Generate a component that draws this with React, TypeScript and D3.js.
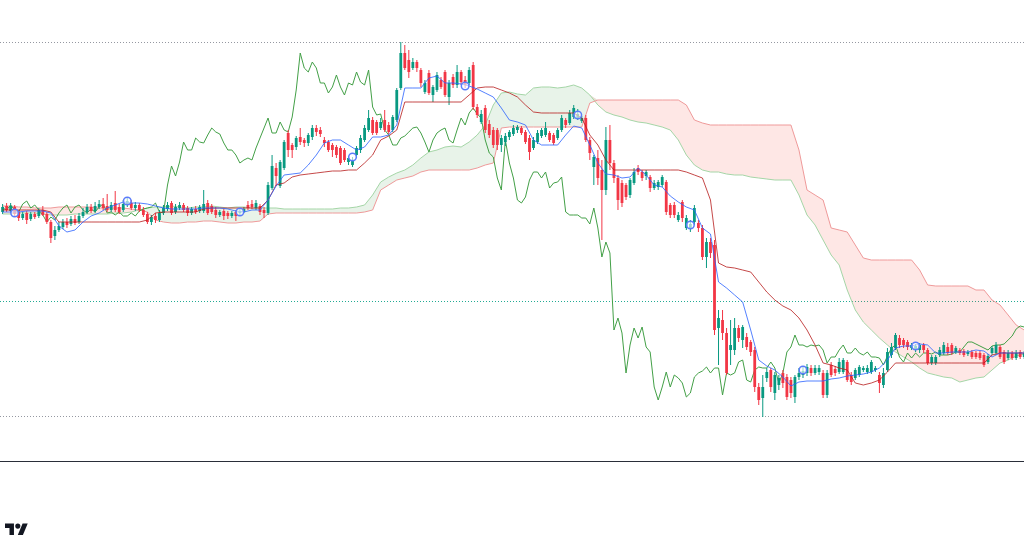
import React from 'react';
import * as d3 from 'd3';

const W = 1024;
const H = 539;
const PLOT_BOTTOM = 461;

// bars: [open, high, low, close]
const ohlc: [number, number, number, number][] = [
  [288,296,286,293],[294,297,288,290],[289,297,287,294],[293,295,283,286],[288,290,279,282],
  [282,288,280,286],[287,289,276,280],[281,288,279,286],[286,288,281,283],[284,292,282,290],
  [290,294,284,285],[286,288,276,278],[278,280,257,262],[264,274,260,270],[270,278,268,274],
  [273,281,271,278],[278,282,272,275],[276,284,274,281],[281,285,275,277],[278,287,276,284],
  [284,292,282,288],[288,296,286,293],[293,296,287,289],[289,298,287,294],[293,300,291,296],
  [296,302,290,292],[294,306,288,290],[290,298,288,295],[297,309,288,290],[293,296,286,288],
  [290,300,288,296],[295,303,293,299],[297,300,290,292],[292,298,289,295],[295,297,288,290],
  [290,293,283,285],[286,288,276,278],[278,285,275,283],[284,287,277,280],[280,290,278,287],
  [287,295,285,292],[291,298,289,295],[297,299,285,287],[288,296,286,293],[292,298,290,295],
  [295,297,288,290],[292,294,284,287],[287,293,285,291],[291,294,286,288],[289,295,287,293],
  [289,310,287,296],[297,300,285,287],[294,296,286,288],[290,293,282,285],[285,290,283,288],
  [289,291,280,284],[287,289,281,284],[284,289,282,287],[288,290,279,284],[287,291,285,289],
  [288,293,287,291],[295,299,290,292],[296,300,291,293],[292,300,290,297],[294,296,285,288],
  [290,293,282,287],[287,318,285,315],[312,345,310,334],[332,337,314,324],[314,340,312,338],
  [332,360,330,358],[367,370,343,350],[355,357,342,350],[353,364,350,362],[363,372,355,358],
  [360,362,353,357],[357,367,354,365],[363,375,360,372],[372,375,364,368],[370,373,363,366],
  [360,363,353,357],[358,360,348,350],[355,357,343,350],[353,355,342,345],[352,354,335,337],
  [350,352,338,340],[338,344,335,342],[335,343,333,340],[345,354,342,352],[350,365,347,362],
  [360,375,358,372],[370,390,368,382],[380,383,365,367],[378,380,365,367],[372,382,370,378],
  [380,390,368,370],[375,378,366,368],[370,385,368,383],[380,412,378,410],[412,458,410,447],
  [447,455,430,432],[440,450,422,428],[432,442,430,438],[438,440,428,432],[430,432,413,417],
  [408,420,406,417],[427,430,405,407],[405,415,398,413],[410,428,408,425],[420,423,411,413],
  [428,430,403,405],[403,420,395,417],[423,426,412,415],[415,435,412,428],[428,430,415,418],
  [420,424,412,415],[417,433,415,430],[435,438,390,393],[393,396,382,385],[378,390,376,386],
  [392,395,367,370],[376,380,362,365],[370,373,352,355],[370,372,350,355],[355,365,348,362],
  [358,367,354,364],[363,370,360,368],[366,375,364,372],[370,375,367,373],[372,374,365,367],
  [368,370,356,358],[362,365,340,348],[352,363,350,360],[358,370,356,367],[364,372,362,370],
  [365,378,363,372],[367,369,358,360],[365,367,355,357],[362,372,360,370],[370,385,368,382],
  [380,382,372,375],[377,390,375,387],[383,395,381,392],[382,391,380,386],[379,384,377,382],
  [382,385,358,360],[360,363,340,347],[333,345,315,343],[342,350,315,322],[330,340,260,310],
  [310,373,305,360],[360,375,330,337],[337,340,317,322],[322,325,290,300],[317,320,293,297],
  [315,317,300,303],[305,322,302,320],[317,332,315,328],[332,335,325,328],[328,330,319,322],
  [324,330,320,328],[323,325,308,312],[312,320,310,317],[313,320,310,318],[315,325,313,323],
  [318,320,285,288],[295,297,282,285],[295,298,282,285],[280,288,278,285],[298,300,278,282],
  [272,285,270,282],[272,280,268,276],[278,295,275,292],[277,280,268,272],[272,275,240,243],
  [243,262,232,258],[258,262,242,247],[255,260,165,170],[172,190,135,182],[180,190,160,167],
  [167,172,125,127],[150,180,135,155],[150,182,145,172],[172,175,158,162],[160,175,152,173],
  [163,167,150,153],[158,160,144,148],[150,153,108,113],[113,117,95,100],[102,125,83,113],
  [122,132,118,128],[130,132,108,113],[107,128,100,125],[115,125,110,122],[127,130,112,117],
  [123,126,100,103],[120,123,102,107],[103,125,97,123],[123,132,120,127],[125,134,122,129],
  [127,136,124,133],[132,135,124,127],[127,135,125,132],[128,135,125,132],[127,130,102,105],
  [105,130,102,127],[135,138,123,125],[131,134,124,127],[128,142,126,138],[128,142,126,140],
  [138,140,118,120],[125,128,115,118],[122,132,120,130],[125,135,123,133],[130,134,128,132],
  [128,135,126,132],[128,140,126,138],[130,134,128,132],[125,128,107,117],[115,132,112,127],
  [130,152,128,148],[145,157,142,153],[152,167,150,165],[162,165,152,155],[160,162,152,155],
  [158,160,150,153],[152,157,150,155],[151,156,148,154],[150,157,147,155],[155,157,147,150],
  [150,152,135,137],[137,145,135,143],[137,145,135,143],[145,153,143,150],[147,158,145,155],
  [153,157,145,147],[155,157,145,147],[148,154,146,152],[150,152,145,147],[149,151,143,145],
  [146,150,144,148],[148,150,141,143],[147,149,141,143],[147,149,140,142],[145,147,133,135],
  [138,146,136,144],[147,154,145,152],[147,158,145,155],[153,155,141,143],[148,150,136,138],
  [142,150,140,147],[147,149,140,142],[142,150,140,147],[148,150,141,143],[143,149,141,147],
];

// closes of the bars after the visible range (only seen through the lagging span)
const closesAhead = [147,146,148,145,145,145,146,148,148,153,158,158,156,154,152,150,154,155,155,156,160,164,171,174,173];

// Ichimoku lines, one value every 2 bars
const tenkan = [
  288,288,288,289,289,289,287,274,268,270,
  278,284,287,292,295,298,297,297,296,294,
  292,291,291,291,291,292,292,292,291,289,
  288,290,290,300,314,325,326,327,335,345,
  357,360,360,355,350,353,363,363,365,375,
  412,412,412,422,424,417,417,416,414,411,
  407,403,392,380,378,375,360,355,355,355,
  365,374,372,355,337,326,325,322,323,332,
  325,315,313,304,298,293,290,272,266,218,
  212,205,198,170,140,134,130,123,114,118,
  119,119,119,121,122,124,125,126,128,132,
  140,152,154,154,156,155,147,147,148,148,
  148,150,149,143,147,147,147,147,
];
const kijun = [
  290,290,290,290,290,290,288,278,278,278,
  278,278,278,278,278,278,278,278,280,287,
  288,288,288,288,288,291,292,292,292,292,
  292,292,292,300,315,317,323,325,326,327,
  328,329,329,330,330,337,345,360,364,370,
  398,398,398,398,398,398,398,398,405,412,
  413,413,410,407,403,395,388,387,387,387,
  387,387,382,365,355,340,330,330,330,330,
  330,330,330,330,330,328,325,322,300,237,
  233,232,230,228,218,208,200,194,190,182,
  170,155,137,135,132,130,117,115,117,120,
  128,137,137,137,137,137,137,137,137,137,
  137,137,137,145,147,147,147,147,
];
const spanA = [
  286,286,287,287,287,286,285,285,285,286,
  286,286,286,286,287,287,288,290,292,293,
  293,294,293,292,293,293,294,293,292,293,
  293,292,292,292,292,291,291,291,291,291,
  291,291,292,292,293,295,305,318,323,327,
  330,335,342,348,350,353,354,353,358,365,
  375,395,407,408,406,405,412,413,413,412,
  413,415,412,405,395,388,385,383,380,378,
  377,375,373,370,360,345,335,330,328,328,
  326,325,325,323,322,321,320,320,320,305,
  285,275,260,245,235,210,190,178,170,162,
  155,148,143,138,132,127,125,123,122,118,
  120,122,123,130,137,140,144,146,
];
const spanB = [
  294,294,293,293,292,292,292,293,293,293,
  293,293,292,292,292,292,291,290,288,280,
  278,277,277,278,278,279,279,278,277,277,
  278,278,279,286,287,287,287,287,287,287,
  287,287,287,287,287,288,290,310,315,320,
  322,324,328,330,330,330,330,330,330,332,
  335,337,372,373,373,373,373,373,373,373,
  373,373,373,397,400,400,400,400,400,400,
  400,400,400,400,400,395,380,377,375,375,
  375,375,375,375,375,375,375,375,375,350,
  310,305,300,272,270,268,255,242,240,240,
  240,240,240,240,230,215,214,214,214,214,
  214,210,210,200,195,185,175,170,
];
const LINE_STEP = 2;
const LAG = 25;

const markerBars = [3, 31, 59, 87, 115, 143, 171, 199, 227];
const markerPrices = [287, 299, 288, 343, 414, 385, 275, 130, 154];

const refPrice = 199;

const UP = '#089981';
const DOWN = '#F23645';

export default function App() {
  const barCount = 255;
  const x = d3.scaleLinear().domain([0, barCount - 1]).range([2.6, 1024.2]);
  const y = d3.scaleLinear().domain([0, 500]).range([500, 0]);

  const hi = d3.max(ohlc, d => d[1]) as number;
  const lo = d3.min(ohlc, d => d[2]) as number;

  const line = d3.line<number>()
    .x((_, k) => x(k * LINE_STEP))
    .y(d => y(d));

  const cloud = spanA.map((a, k) => ({ i: k * LINE_STEP, a, b: spanB[k] }));
  const greenArea = d3.area<{ i: number; a: number; b: number }>()
    .x(d => x(d.i))
    .y0(d => y(d.b))
    .y1(d => y(Math.max(d.a, d.b)));
  const redArea = d3.area<{ i: number; a: number; b: number }>()
    .x(d => x(d.i))
    .y0(d => y(d.a))
    .y1(d => y(Math.max(d.a, d.b)));

  const allCloses = ohlc.map(d => d[3]).concat(closesAhead);
  const lagging = allCloses.slice(LAG);
  const lagLine = d3.line<number>().x((_, j) => x(j)).y(d => y(d));

  const bodyW = 2.8;

  return (
    <svg
      width={W}
      height={H}
      viewBox={`0 0 ${W} ${H}`}
      style={{ position: 'fixed', left: 0, top: 0, display: 'block', background: '#fff' }}
    >
      <defs>
        <clipPath id="plot">
          <rect x={0} y={0} width={W} height={PLOT_BOTTOM} />
        </clipPath>
      </defs>
      <rect width={W} height={H} fill="#fff" />

      <g clipPath="url(#plot)">
        {/* high / low / reference price lines */}
        <line x1={0} x2={W} y1={Math.round(y(hi)) + 0.5} y2={Math.round(y(hi)) + 0.5} stroke="#9598A1" strokeDasharray="1 2" />
        <line x1={0} x2={W} y1={Math.round(y(lo)) - 0.5} y2={Math.round(y(lo)) - 0.5} stroke="#9598A1" strokeDasharray="1 2" />
        <line x1={0} x2={W} y1={Math.round(y(refPrice)) + 0.5} y2={Math.round(y(refPrice)) + 0.5} stroke="#22AB94" strokeDasharray="1 2" />

        {/* cloud */}
        <path d={greenArea(cloud) || ''} fill="rgba(67,160,71,0.12)" />
        <path d={redArea(cloud) || ''} fill="rgba(244,67,54,0.13)" />
        <path d={line(spanA) || ''} fill="none" stroke="#A5D6A7" strokeWidth={1} />
        <path d={line(spanB) || ''} fill="none" stroke="#EF9A9A" strokeWidth={1} />

        {/* lagging span */}
        <path d={lagLine(lagging) || ''} fill="none" stroke="#43A047" strokeWidth={1} />

        {/* candles */}
        {ohlc.map((d, i) => {
          const [o, h, l, c] = d;
          const col = c >= o ? UP : DOWN;
          const top = y(Math.max(o, c));
          const bh = Math.max(1, Math.abs(y(o) - y(c)));
          return (
            <g key={i}>
              <line x1={x(i)} x2={x(i)} y1={y(h)} y2={y(l)} stroke={col} strokeWidth={1} />
              <rect x={x(i) - bodyW / 2} y={top} width={bodyW} height={bh} fill={col} />
            </g>
          );
        })}

        {/* conversion / base lines */}
        <path d={line(kijun) || ''} fill="none" stroke="#B71C1C" strokeWidth={1} opacity={0.8} />
        <path d={line(tenkan) || ''} fill="none" stroke="#2962FF" strokeWidth={1} opacity={0.8} />

        {/* markers */}
        {markerBars.map((b, k) => (
          <circle key={k} cx={x(b)} cy={y(markerPrices[k])} r={3.8} fill="#fff" fillOpacity={0.6} stroke="#5B7CFA" strokeWidth={1.5} />
        ))}
      </g>

      <line x1={0} x2={W} y1={PLOT_BOTTOM + 0.5} y2={PLOT_BOTTOM + 0.5} stroke="#2A2E39" strokeWidth={1} />

      {/* logo */}
      <g transform="translate(5,521) scale(0.64)" fill="#131722">
        <path d="M14 22H7V11H0V4h14v18z" />
        <path d="M28 22h-8l7.5-18h8L28 22z" />
        <circle cx={20} cy={8} r={4} />
      </g>
    </svg>
  );
}
